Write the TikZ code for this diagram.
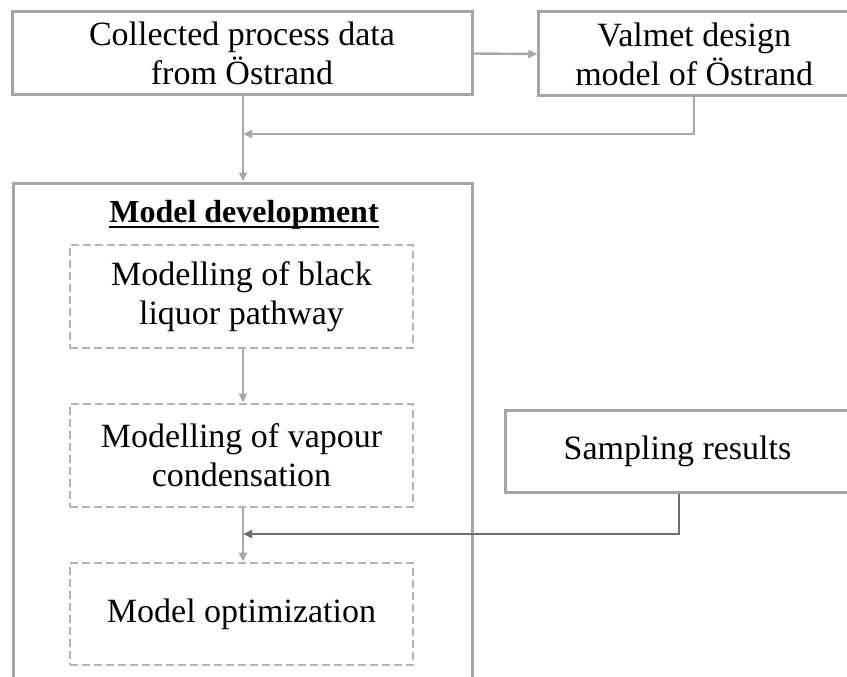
\documentclass[tikz,border=0pt]{standalone}
\usepackage{fontspec}
\setmainfont{Liberation Serif}
\usetikzlibrary{arrows.meta}
\definecolor{boxgray}{HTML}{A5A5A5}
\definecolor{dashgray}{HTML}{B3B3B3}
\definecolor{arrgray}{HTML}{A8A8A8}
\definecolor{darkarr}{HTML}{6E6E6E}
\begin{document}
\begin{tikzpicture}[x=1pt,y=-1pt,
  txt/.style={font=\fontsize{34}{39}\selectfont, align=center, text=black, inner sep=0pt},
  solidbox/.style={txt, draw=boxgray, line width=3pt, rectangle},
  dashbox/.style={txt, draw=dashgray, line width=2.6pt, dash pattern=on 8pt off 4pt, rectangle,
     minimum width=343pt, minimum height=102pt},
  arr/.style={draw=arrgray, line width=2.4pt, -{Triangle[length=9pt,width=8pt]}},
  darkarrow/.style={draw=darkarr, line width=2.4pt, -{Triangle[length=9pt,width=8pt]}}]
\useasboundingbox (0,0) rectangle (847,677);
\clip (0,0) rectangle (847,677);
\fill[white] (0,0) rectangle (847,677);

% top boxes
\node[solidbox, minimum width=460pt, minimum height=83pt] (A) at (242,53.5)
  {Collected process data\\from Östrand};
\node[solidbox, minimum width=311pt, minimum height=84pt] (B) at (694.25,54)
  {Valmet design\\model of Östrand};

% container
\node[draw=boxgray, line width=3pt, minimum width=459pt, minimum height=520pt, inner sep=0pt] (dev) at (242.5,443) {};
\node[font=\fontsize{32}{38}\selectfont\bfseries, inner sep=0pt, anchor=base] (hd) at (244,222) {Model development};
\draw[black, line width=1.4pt] ([yshift=-5pt]hd.base west) -- ([yshift=-5pt]hd.base east);

% dashed boxes
\node[dashbox, minimum height=103pt] (D1) at (241.5,296.5) {Modelling of black\\liquor pathway};
\node[dashbox, minimum height=103pt] (D2) at (241.5,455.5) {Modelling of vapour\\condensation};
\node[dashbox] (D3) at (241.5,614) {Model optimization};

% sampling
\node[solidbox, minimum width=345pt, minimum height=82pt] (S) at (677.5,451) {Sampling results};

% junction coordinates
\coordinate (j1) at (243,134);
\coordinate (j2) at (243,534);

% connectors
\draw[arr] (A.east) -- (B.west);
\draw[arr] ([xshift=1pt]A.south) -- ([xshift=1pt]A.south |- dev.north);
\draw[arr] (B.south) |- (j1);
\draw[arr] ([xshift=1.5pt]D1.south) -- ([xshift=1.5pt]D2.north);
\draw[arr] ([xshift=1.5pt]D2.south) -- ([xshift=1.5pt]D3.north);
\draw[darkarrow] ([xshift=1.5pt]S.south) |- (j2);
\end{tikzpicture}
\end{document}
